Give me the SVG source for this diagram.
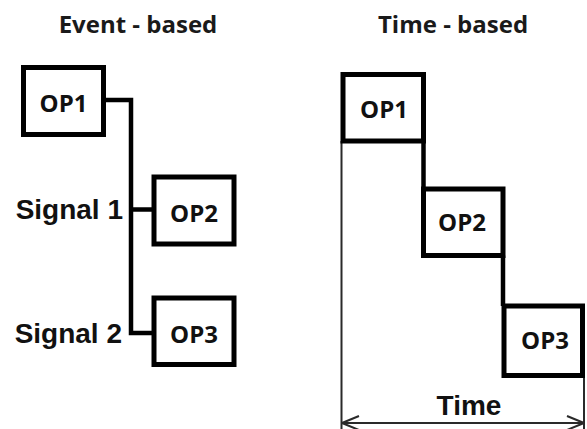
<svg xmlns="http://www.w3.org/2000/svg" width="587" height="429" viewBox="0 0 587 429">
  <defs>
    <style>
      .box { fill: #ffffff; stroke: #000000; stroke-width: 5; }
      .wire { fill: none; stroke: #000000; stroke-width: 4.5; }
      .thin { fill: none; stroke: #2a2a2a; stroke-width: 2; }
      .title { font-family: "Open Sans", "Liberation Sans", sans-serif; font-weight: 700; font-size: 24px; fill: #1a1a1a; text-anchor: middle; }
      .op { font-family: "Open Sans", "Liberation Sans", sans-serif; font-weight: 700; font-size: 24px; fill: #111111; text-anchor: middle; }
      .sig { font-family: "Liberation Sans", Arial, sans-serif; font-weight: 700; font-size: 28px; fill: #111111; }
    </style>
    <marker id="chev" viewBox="0 0 20 20" refX="19" refY="10" markerWidth="20" markerHeight="20" markerUnits="userSpaceOnUse" orient="auto-start-reverse">
      <path d="M2 3 L19 10 L2 17" fill="none" stroke="#2a2a2a" stroke-width="2"/>
    </marker>
  </defs>
  <rect width="587" height="429" fill="#ffffff"/>

  <!-- column titles -->
  <text class="title" x="138" y="33">Event - based</text>
  <text class="title" x="453" y="33">Time - based</text>

  <!-- event-based connectors -->
  <g id="event-connectors">
    <path class="wire" d="M104 100 H131 V333 H154"/>
    <path class="wire" d="M131 209.5 H154"/>
  </g>

  <!-- time-based connectors and time axis -->
  <g id="time-connectors">
    <path class="wire" d="M423.5 141 V189"/>
    <path class="wire" d="M503 255.5 V306"/>
    <path class="thin" d="M341.5 141 V429"/>
    <path class="thin" d="M584 375 V429"/>
    <path class="thin" d="M342 423 H584" marker-start="url(#chev)" marker-end="url(#chev)"/>
  </g>

  <!-- event-based nodes -->
  <g id="ev-op1">
    <rect class="box" x="23.5" y="67.5" width="80" height="67"/>
    <text class="op" x="63.5" y="112">OP1</text>
  </g>
  <g id="ev-op2">
    <rect class="box" x="154" y="177" width="80" height="67"/>
    <text class="op" x="194" y="222">OP2</text>
  </g>
  <g id="ev-op3">
    <rect class="box" x="154" y="298" width="80" height="66.5"/>
    <text class="op" x="194" y="343">OP3</text>
  </g>

  <!-- signal labels -->
  <text class="sig" x="123" y="219" text-anchor="end">Signal 1</text>
  <text class="sig" x="122" y="343" text-anchor="end">Signal 2</text>

  <!-- time-based nodes -->
  <g id="tm-op1">
    <rect class="box" x="343" y="74.5" width="80.5" height="66.5"/>
    <text class="op" x="384" y="118">OP1</text>
  </g>
  <g id="tm-op2">
    <rect class="box" x="423.5" y="189" width="79.5" height="66.5"/>
    <text class="op" x="462" y="231">OP2</text>
  </g>
  <g id="tm-op3">
    <rect class="box" x="504" y="306" width="78.5" height="69.5"/>
    <text class="op" x="545" y="349">OP3</text>
  </g>

  <text class="sig" x="469" y="415" text-anchor="middle">Time</text>
</svg>
